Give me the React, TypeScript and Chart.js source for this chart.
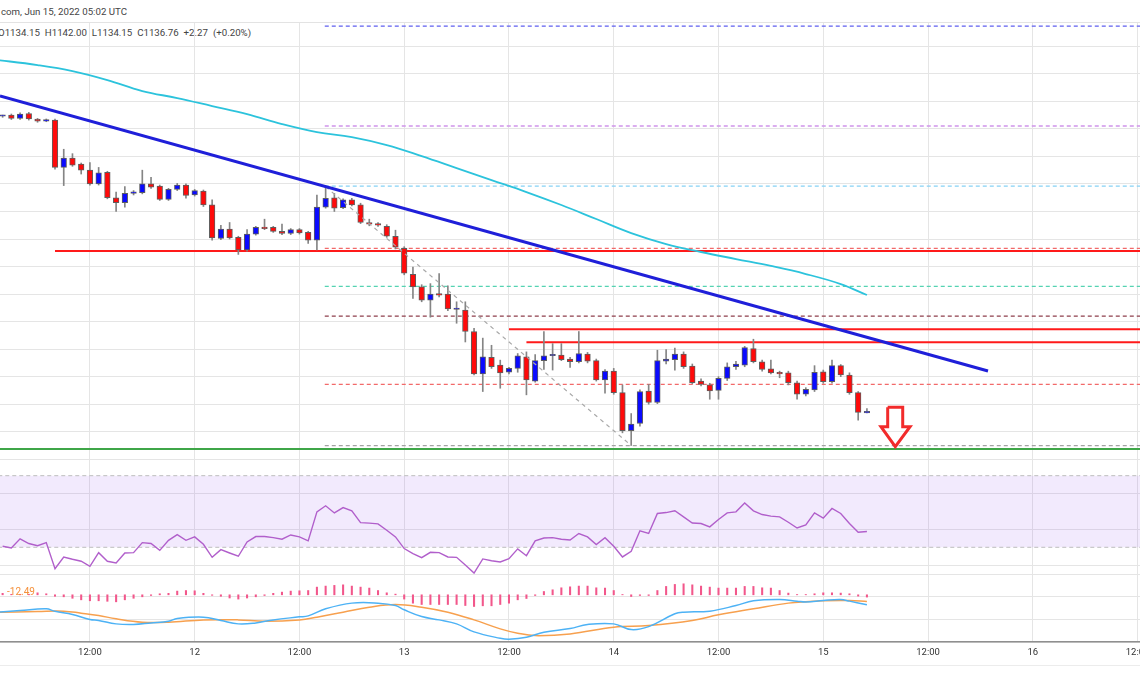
import React, { useEffect, useRef } from "react";
import { Chart, registerables } from "chart.js";

Chart.register(...registerables);

// x axis unit: hours from Jun 12 00:00 UTC. Candle 0 = Jun 11 02:00 (1h candles)
const FIRST_CANDLE_HOUR = -22;
const VIEW_START = -22.3;
const VIEW_END = 108.28;

const opens = [
  1673, 1675, 1669, 1678, 1668, 1664, 1666, 1580, 1597, 1586,
  1575, 1550, 1571, 1525, 1516, 1533, 1534, 1550, 1546, 1522,
  1540, 1548, 1530, 1537, 1512, 1451, 1468, 1453, 1430, 1459,
  1471, 1471, 1464, 1460, 1467, 1462, 1448, 1508, 1525, 1507,
  1521, 1512, 1480, 1478, 1473, 1455, 1433, 1386, 1363, 1339,
  1350, 1350, 1322, 1321, 1282, 1205, 1235, 1221, 1208, 1215,
  1236, 1192, 1229, 1238, 1239, 1232, 1227, 1241, 1229, 1194,
  1210, 1171, 1102, 1115, 1174, 1153, 1228, 1231, 1241, 1219,
  1192, 1185, 1175, 1197, 1218, 1221, 1251, 1227, 1214, 1208,
  1207, 1189, 1168, 1176, 1209, 1191, 1220, 1203, 1171, 1134.15,
];
const highs = [
  1675, 1677, 1679, 1680, 1669, 1668, 1668, 1613, 1605, 1588,
  1589, 1580, 1573, 1535, 1545, 1538, 1575, 1562, 1548, 1542,
  1551, 1550, 1540, 1539, 1521, 1475, 1480, 1455, 1467, 1473,
  1486, 1473, 1477, 1469, 1469, 1464, 1530, 1545, 1533, 1523,
  1524, 1515, 1486, 1480, 1476, 1466, 1436, 1399, 1367, 1369,
  1387, 1365, 1336, 1336, 1288, 1270, 1257, 1230, 1217, 1242,
  1245, 1240, 1282, 1260, 1260, 1235, 1282, 1244, 1232, 1213,
  1215, 1185, 1133, 1176, 1186, 1248, 1249, 1252, 1245, 1223,
  1196, 1188, 1200, 1225, 1228, 1255, 1268, 1230, 1230, 1210,
  1210, 1192, 1180, 1220, 1212, 1230, 1222, 1207, 1173, 1142,
];
const lows = [
  1671, 1667, 1667, 1666, 1662, 1663, 1577, 1547, 1582, 1568,
  1548, 1548, 1523, 1500, 1508, 1530, 1532, 1542, 1520, 1520,
  1538, 1524, 1528, 1509, 1448, 1449, 1450, 1422, 1428, 1457,
  1467, 1462, 1458, 1458, 1459, 1442, 1430, 1506, 1500, 1505,
  1510, 1478, 1474, 1473, 1453, 1432, 1385, 1342, 1336, 1308,
  1345, 1320, 1297, 1263, 1203, 1173, 1215, 1179, 1205, 1208,
  1167, 1190, 1213, 1212, 1229, 1217, 1225, 1225, 1192, 1170,
  1168, 1098, 1075, 1110, 1150, 1151, 1223, 1212, 1215, 1187,
  1183, 1159, 1159, 1193, 1213, 1218, 1225, 1210, 1205, 1198,
  1185, 1159, 1165, 1173, 1188, 1188, 1200, 1168, 1121, 1134.15,
];
const closes = [
  1674, 1669, 1677, 1668, 1664, 1666.5, 1580, 1597, 1584, 1575,
  1550, 1570, 1525, 1516, 1533, 1535, 1550, 1544, 1522, 1540,
  1548, 1529, 1538, 1512, 1452, 1468, 1452, 1430, 1459, 1471,
  1469, 1464, 1460, 1467, 1461, 1448, 1508, 1524, 1506, 1521,
  1512, 1480, 1477, 1475, 1455, 1435, 1388, 1363, 1339, 1350,
  1348, 1323, 1323, 1282, 1205, 1236, 1218, 1207, 1215, 1238,
  1194, 1229, 1238, 1239.5, 1231, 1227, 1242, 1228, 1194, 1210,
  1171, 1102, 1114, 1173, 1153, 1229, 1232, 1241, 1218, 1189,
  1186, 1174, 1197, 1218, 1223, 1253, 1227, 1213, 1207, 1205,
  1189, 1168, 1177, 1208, 1191, 1220, 1203, 1171, 1135, 1136.76,
];

// moving average (cyan): [candle index, price]
const maPoints = [
  [-1, 1775.9], [4, 1765.9], [8, 1755.0], [12, 1738.7], [16, 1718.7], [20, 1706.0],
  [24, 1691.5], [28, 1676.9], [32, 1658.8], [36, 1644.3], [40, 1635.2], [44, 1620.7],
  [48, 1600.7], [52, 1578.9], [56, 1557.1], [60, 1535.3], [64, 1511.7], [68, 1486.3],
  [72, 1460.8], [76, 1440.9], [80, 1426.4], [84, 1413.6], [88, 1401.0], [92, 1386.4],
  [96, 1368.2], [99, 1348.3],
];

// drawings on the price pane (hours, price)
const trendLine = [[-22.3, 1709.6], [90.87, 1210.2]];
const fibDiagonal = [[15, 1545], [50, 1075]];
const fibStartHour = 14.9;
const fibLevels = [1836.7, 1655.2, 1546.2, 1433, 1364, 1310, 1186, 1074.6];
const fibColors = ["#5f5ff0", "#cf94ea", "#86d2f5", "#f26a6a", "#55d3b2", "#8e3f4c", "#f26a6a", "#a3a3a3"];
const resistanceLevels = [1428.2, 1286, 1262.3];
const resistanceStarts = [-16, 36, 38];
const supportLevel = 1068.6;
const arrowOutline = [
  [79.38, 1144.3], [81.1, 1144.3], [81.1, 1109.1], [81.94, 1109.1], [80.25, 1072.8],
  [78.61, 1109.1], [79.38, 1109.1], [79.38, 1144.3],
];

const rsiValues = [
  30.6, 29.6, 34.7, 32.1, 30.9, 32.6, 18.0, 24.6, 23.3, 22.2,
  19.4, 27.0, 22.2, 21.2, 26.8, 27.0, 32.6, 32.1, 28.3, 33.9,
  37.1, 33.9, 35.8, 31.7, 24.4, 28.7, 26.8, 25.0, 33.0, 36.0,
  36.0, 35.4, 34.5, 36.9, 35.8, 33.6, 49.8, 53.2, 49.2, 52.2,
  50.4, 43.8, 43.5, 43.1, 39.5, 35.8, 29.3, 26.5, 24.2, 27.2,
  27.0, 24.6, 24.4, 20.1, 15.6, 23.5, 22.5, 21.8, 23.6, 29.1,
  25.3, 33.6, 35.2, 35.4, 34.5, 34.1, 37.7, 35.8, 31.5, 35.4,
  30.6, 24.6, 27.8, 39.2, 37.7, 48.9, 49.4, 50.4, 47.0, 43.6,
  43.3, 41.4, 45.5, 49.2, 49.8, 54.7, 50.4, 48.3, 47.4, 47.0,
  44.0, 40.8, 42.5, 49.2, 46.3, 51.7, 48.9, 43.3, 38.4, 38.8,
];
const rsiBand = [70, 30];

const macdHist = [
  2.6, 0.9, 0.9, 0.9, 3.5, 1.8, -2.6, -3.5, -6.1, -8.8,
  -10.5, -10.5, -11.4, -12.3, -8.8, -6.1, -3.5, -1.2, 1.8, 2.6,
  6.5, 7.5, 7.0, 2.6, -0.9, -2.6, -5.6, -7.5, -5.6, -3.5,
  -1.2, 2.6, 4.7, 6.5, 7.0, 7.5, 13.5, 15.3, 16.5, 17.5,
  15.3, 13.5, 11.8, 7.5, 3.5, 1.2, -7.5, -14.7, -17.0, -17.0,
  -17.0, -17.0, -17.0, -18.8, -20.5, -19.3, -19.3, -17.0, -14.7, -8.8,
  -6.5, -1.2, 5.8, 8.8, 12.3, 14.0, 15.3, 15.3, 12.3, 11.8,
  7.5, 0.5, -3.0, -1.2, -1.2, 7.5, 14.7, 18.2, 19.3, 17.5,
  15.3, 13.5, 11.8, 11.8, 11.8, 14.7, 14.7, 12.3, 11.8, 7.5,
  3.0, 0.5, 0.5, 1.8, 3.5, 3.5, 3.0, 1.8, -2.3, -4.0,
];
// [candle index, value]
const macdLine = [
  [-1, -31], [2, -27.7], [5, -24.6], [6, -29], [8, -34.5], [10, -43.3], [11, -45.1],
  [13, -51.0], [15, -52.1], [17, -49.3], [19, -46.3], [20, -41.6], [23, -39.3], [25, -45.1],
  [27, -51.0], [29, -49.3], [31, -44.0], [34, -38.7], [35, -37.0], [37, -24.6], [40, -14.6],
  [43, -14.6], [45, -18.8], [46, -26.3], [48, -38.1], [50, -44.0], [52, -51.0], [54, -65.1],
  [57, -76.3], [58, -78.0], [60, -74.5], [62, -65.6], [65, -59.2], [67, -52.1], [70, -51.0],
  [72, -61.0], [74, -55.8], [77, -33.3], [78, -30.5], [81, -28.7], [84, -18.8], [86, -10.5],
  [89, -8.2], [91, -11.1], [92, -12.8], [94, -10.0], [96, -8.2], [97, -11.1], [99, -17.5],
];
const signalLine = [
  [-1, -31.0], [4, -29.3], [7, -28.7], [9, -32.2], [11, -36.3], [13, -42.2], [16, -48.1],
  [19, -48.1], [23, -44.0], [27, -44.0], [30, -46.3], [34, -44.0], [36, -39.3], [39, -30.5],
  [42, -21.7], [45, -17.0], [48, -21.7], [51, -30.5], [54, -44.0], [57, -59.8], [59, -67.4],
  [61, -71.6], [65, -68.6], [70, -56.8], [74, -53.9], [79, -45.1], [82, -35.1], [86, -24.6],
  [90, -14.6], [94, -10.5], [97, -10.0], [99, -11.7],
];

const GRID = "#e5e5e5";
const FONT = "Roboto";

const hourOf = (i: number) => FIRST_CANDLE_HOUR + i;
const pts = (arr: number[][], idx = false) =>
  arr.map(([a, b]) => ({ x: idx ? hourOf(a) : a, y: b }));

const timeLabel = (v: any) => {
  const h = Math.round(Number(v));
  const m = ((h % 24) + 24) % 24;
  return m === 0 ? String(12 + h / 24) : "12:00";
};

function xScale(showLabels: boolean, border: any) {
  return {
    type: "linear",
    min: VIEW_START,
    max: VIEW_END,
    offset: false,
    grid: { display: true, color: GRID, lineWidth: 1, drawTicks: false, offset: false },
    border,
    ticks: {
      display: showLabels,
      stepSize: 12,
      includeBounds: false,
      maxTicksLimit: 100,
      autoSkip: false,
      maxRotation: 0,
      minRotation: 0,
      padding: 5,
      color: "#333",
      font: { family: FONT, size: 9.5 },
      callback: timeLabel,
    },
    afterFit: (s: any) => {
      s.paddingLeft = 0;
      s.paddingRight = 0;
      s.height = showLabels ? 23 : 0;
    },
  };
}

function yScale(min: number, max: number, step: number) {
  return {
    type: "linear",
    min,
    max,
    grid: { color: GRID, lineWidth: 1, drawTicks: false },
    border: { display: false },
    ticks: { display: false, stepSize: step, includeBounds: false, maxTicksLimit: 100 },
    afterFit: (s: any) => {
      s.width = 0;
      s.paddingTop = 0;
      s.paddingBottom = 0;
    },
  };
}

const baseOptions = (scales: any) => ({
  responsive: false,
  animation: false,
  events: [],
  layout: { padding: 0 },
  plugins: { legend: { display: false }, tooltip: { enabled: false } },
  scales,
});

const flatLine = (y: number, from: number, color: string, width: number, dash: number[], order: number) => ({
  type: "line",
  data: [{ x: from, y }, { x: VIEW_END + 1, y }],
  borderColor: color,
  borderWidth: width,
  borderDash: dash,
  pointRadius: 0,
  fill: false,
  order,
});

export default function App() {
  const mainRef = useRef<HTMLCanvasElement>(null);
  const rsiRef = useRef<HTMLCanvasElement>(null);
  const macdRef = useRef<HTMLCanvasElement>(null);

  useEffect(() => {
    const RED = "#ff0a0a";
    const BLUE = "#0a0aff";
    const wicks = opens.map((_, i) => ({ x: hourOf(i), y: [lows[i], highs[i]] }));
    const bodies = opens.map((o, i) => ({ x: hourOf(i), y: [Math.min(o, closes[i]), Math.max(o, closes[i])] }));
    const bodyColors = opens.map((o, i) => (closes[i] >= o ? BLUE : RED));

    const mainDatasets: any[] = [];
    fibLevels.forEach((lv, k) => mainDatasets.push(flatLine(lv, fibStartHour, fibColors[k], 1.3, [4, 3], 10)));
    resistanceLevels.forEach((lv, k) => mainDatasets.push(flatLine(lv, resistanceStarts[k], "#ff1a1a", 2, [], 9)));
    mainDatasets.push(flatLine(supportLevel, VIEW_START - 1, "#3fa648", 2, [], 9));
    mainDatasets.push({
      type: "bar", data: wicks, backgroundColor: "#858585", barThickness: 1, grouped: false, order: 6,
    });
    mainDatasets.push({
      type: "bar", data: bodies, backgroundColor: bodyColors, borderColor: "#5e5e5e", borderWidth: 1,
      borderSkipped: false, barThickness: 5.6, minBarLength: 1.5, grouped: false, order: 5,
    });
    mainDatasets.push({
      type: "line", data: pts(fibDiagonal), borderColor: "#a8a8a8", borderWidth: 1.2, borderDash: [4, 4],
      pointRadius: 0, fill: false, order: 4,
    });
    mainDatasets.push({
      type: "line", data: pts(maPoints, true), borderColor: "#2cc3dc", borderWidth: 1.8, tension: 0.4,
      pointRadius: 0, fill: false, order: 3,
    });
    mainDatasets.push({
      type: "line", data: pts(trendLine), borderColor: "#1f1fd9", borderWidth: 3, pointRadius: 0, fill: false, order: 2,
    });
    mainDatasets.push({
      type: "line", data: pts(arrowOutline), borderColor: "#f22b2b", borderWidth: 3, borderJoinStyle: "miter",
      pointRadius: 0, fill: false, order: 1,
    });

    const main = new Chart(mainRef.current!, {
      type: "line",
      data: { datasets: mainDatasets },
      options: baseOptions({
        x: xScale(false, { display: true, color: "#dddddd", width: 1 }),
        y: yScale(1032.3, 1842.3, 50),
      }) as any,
    } as any);

    const rsi = new Chart(rsiRef.current!, {
      type: "line",
      data: {
        datasets: [
          {
            data: [{ x: VIEW_START - 1, y: rsiBand[0] }, { x: VIEW_END + 1, y: rsiBand[0] }],
            borderColor: "#bdbdbd", borderWidth: 1, borderDash: [4, 3], pointRadius: 0,
            fill: "+1", backgroundColor: "rgba(150, 80, 235, 0.12)", order: 3,
          },
          {
            data: [{ x: VIEW_START - 1, y: rsiBand[1] }, { x: VIEW_END + 1, y: rsiBand[1] }],
            borderColor: "#bdbdbd", borderWidth: 1, borderDash: [4, 3], pointRadius: 0, fill: false, order: 2,
          },
          {
            data: rsiValues.map((v, i) => ({ x: hourOf(i), y: v })),
            borderColor: "#b15fcb", borderWidth: 1.4, pointRadius: 0, fill: false, order: 1,
          },
        ],
      },
      options: baseOptions({
        x: xScale(false, { display: false }),
        y: yScale(15.08, 73.74, 20),
      }) as any,
    } as any);

    const macd = new Chart(macdRef.current!, {
      type: "line",
      data: {
        datasets: [
          {
            type: "bar", data: macdHist.map((v, i) => ({ x: hourOf(i), y: v })),
            backgroundColor: "#f2578b", barThickness: 1.4, grouped: false, order: 3,
          },
          {
            data: pts(signalLine, true), borderColor: "#f7a04e", borderWidth: 1.5, tension: 0.4,
            pointRadius: 0, fill: false, order: 2,
          },
          {
            data: pts(macdLine, true), borderColor: "#4db2f5", borderWidth: 1.5, tension: 0.4,
            pointRadius: 0, fill: false, order: 1,
          },
        ],
      },
      options: baseOptions({
        x: xScale(true, { display: true, color: "#8f8f8f", width: 1.5 }),
        y: yScale(-82.8, 36.5, 40),
      }) as any,
    } as any);

    return () => {
      main.destroy();
      rsi.destroy();
      macd.destroy();
    };
  }, []);

  const abs = (top: number, height: number): React.CSSProperties => ({
    position: "absolute", left: 0, top, width: 1140, height,
  });

  return (
    <div style={{ position: "absolute", left: 0, top: 0, width: 1140, height: 694, background: "#fff", overflow: "hidden", fontFamily: FONT }}>
      <div style={{ position: "absolute", left: 1, top: 5, fontSize: 9.7, lineHeight: "14px", color: "#444", whiteSpace: "nowrap" }}>
        com, Jun 15, 2022 05:02 UTC
      </div>
      <div style={{ position: "absolute", left: -2, top: 26, fontSize: 9.7, lineHeight: "14px", color: "#444", whiteSpace: "nowrap", wordSpacing: 2.5 }}>
        O1134.15 H1142.00 L1134.15 C1136.76 +2.27 (+0.20%)
      </div>
      <div style={{ position: "absolute", left: 0, top: 22, width: 1140, height: 1, background: "#e3e3e3" }} />
      <div style={abs(23, 446)}>
        <canvas ref={mainRef} width={1140} height={446} style={{ width: 1140, height: 446, display: "block" }} />
      </div>
      <div style={abs(469, 105)}>
        <canvas ref={rsiRef} width={1140} height={105} style={{ width: 1140, height: 105, display: "block" }} />
      </div>
      <div style={abs(574, 91)}>
        <canvas ref={macdRef} width={1140} height={91} style={{ width: 1140, height: 91, display: "block" }} />
      </div>
      <div style={{ position: "absolute", left: 7, top: 585, fontSize: 10, lineHeight: "14px", color: "#f5913c", whiteSpace: "nowrap" }}>
        -12.49
      </div>
      <div style={{ position: "absolute", left: 0, top: 665, width: 1140, height: 1, background: "#ececec" }} />
    </div>
  );
}
